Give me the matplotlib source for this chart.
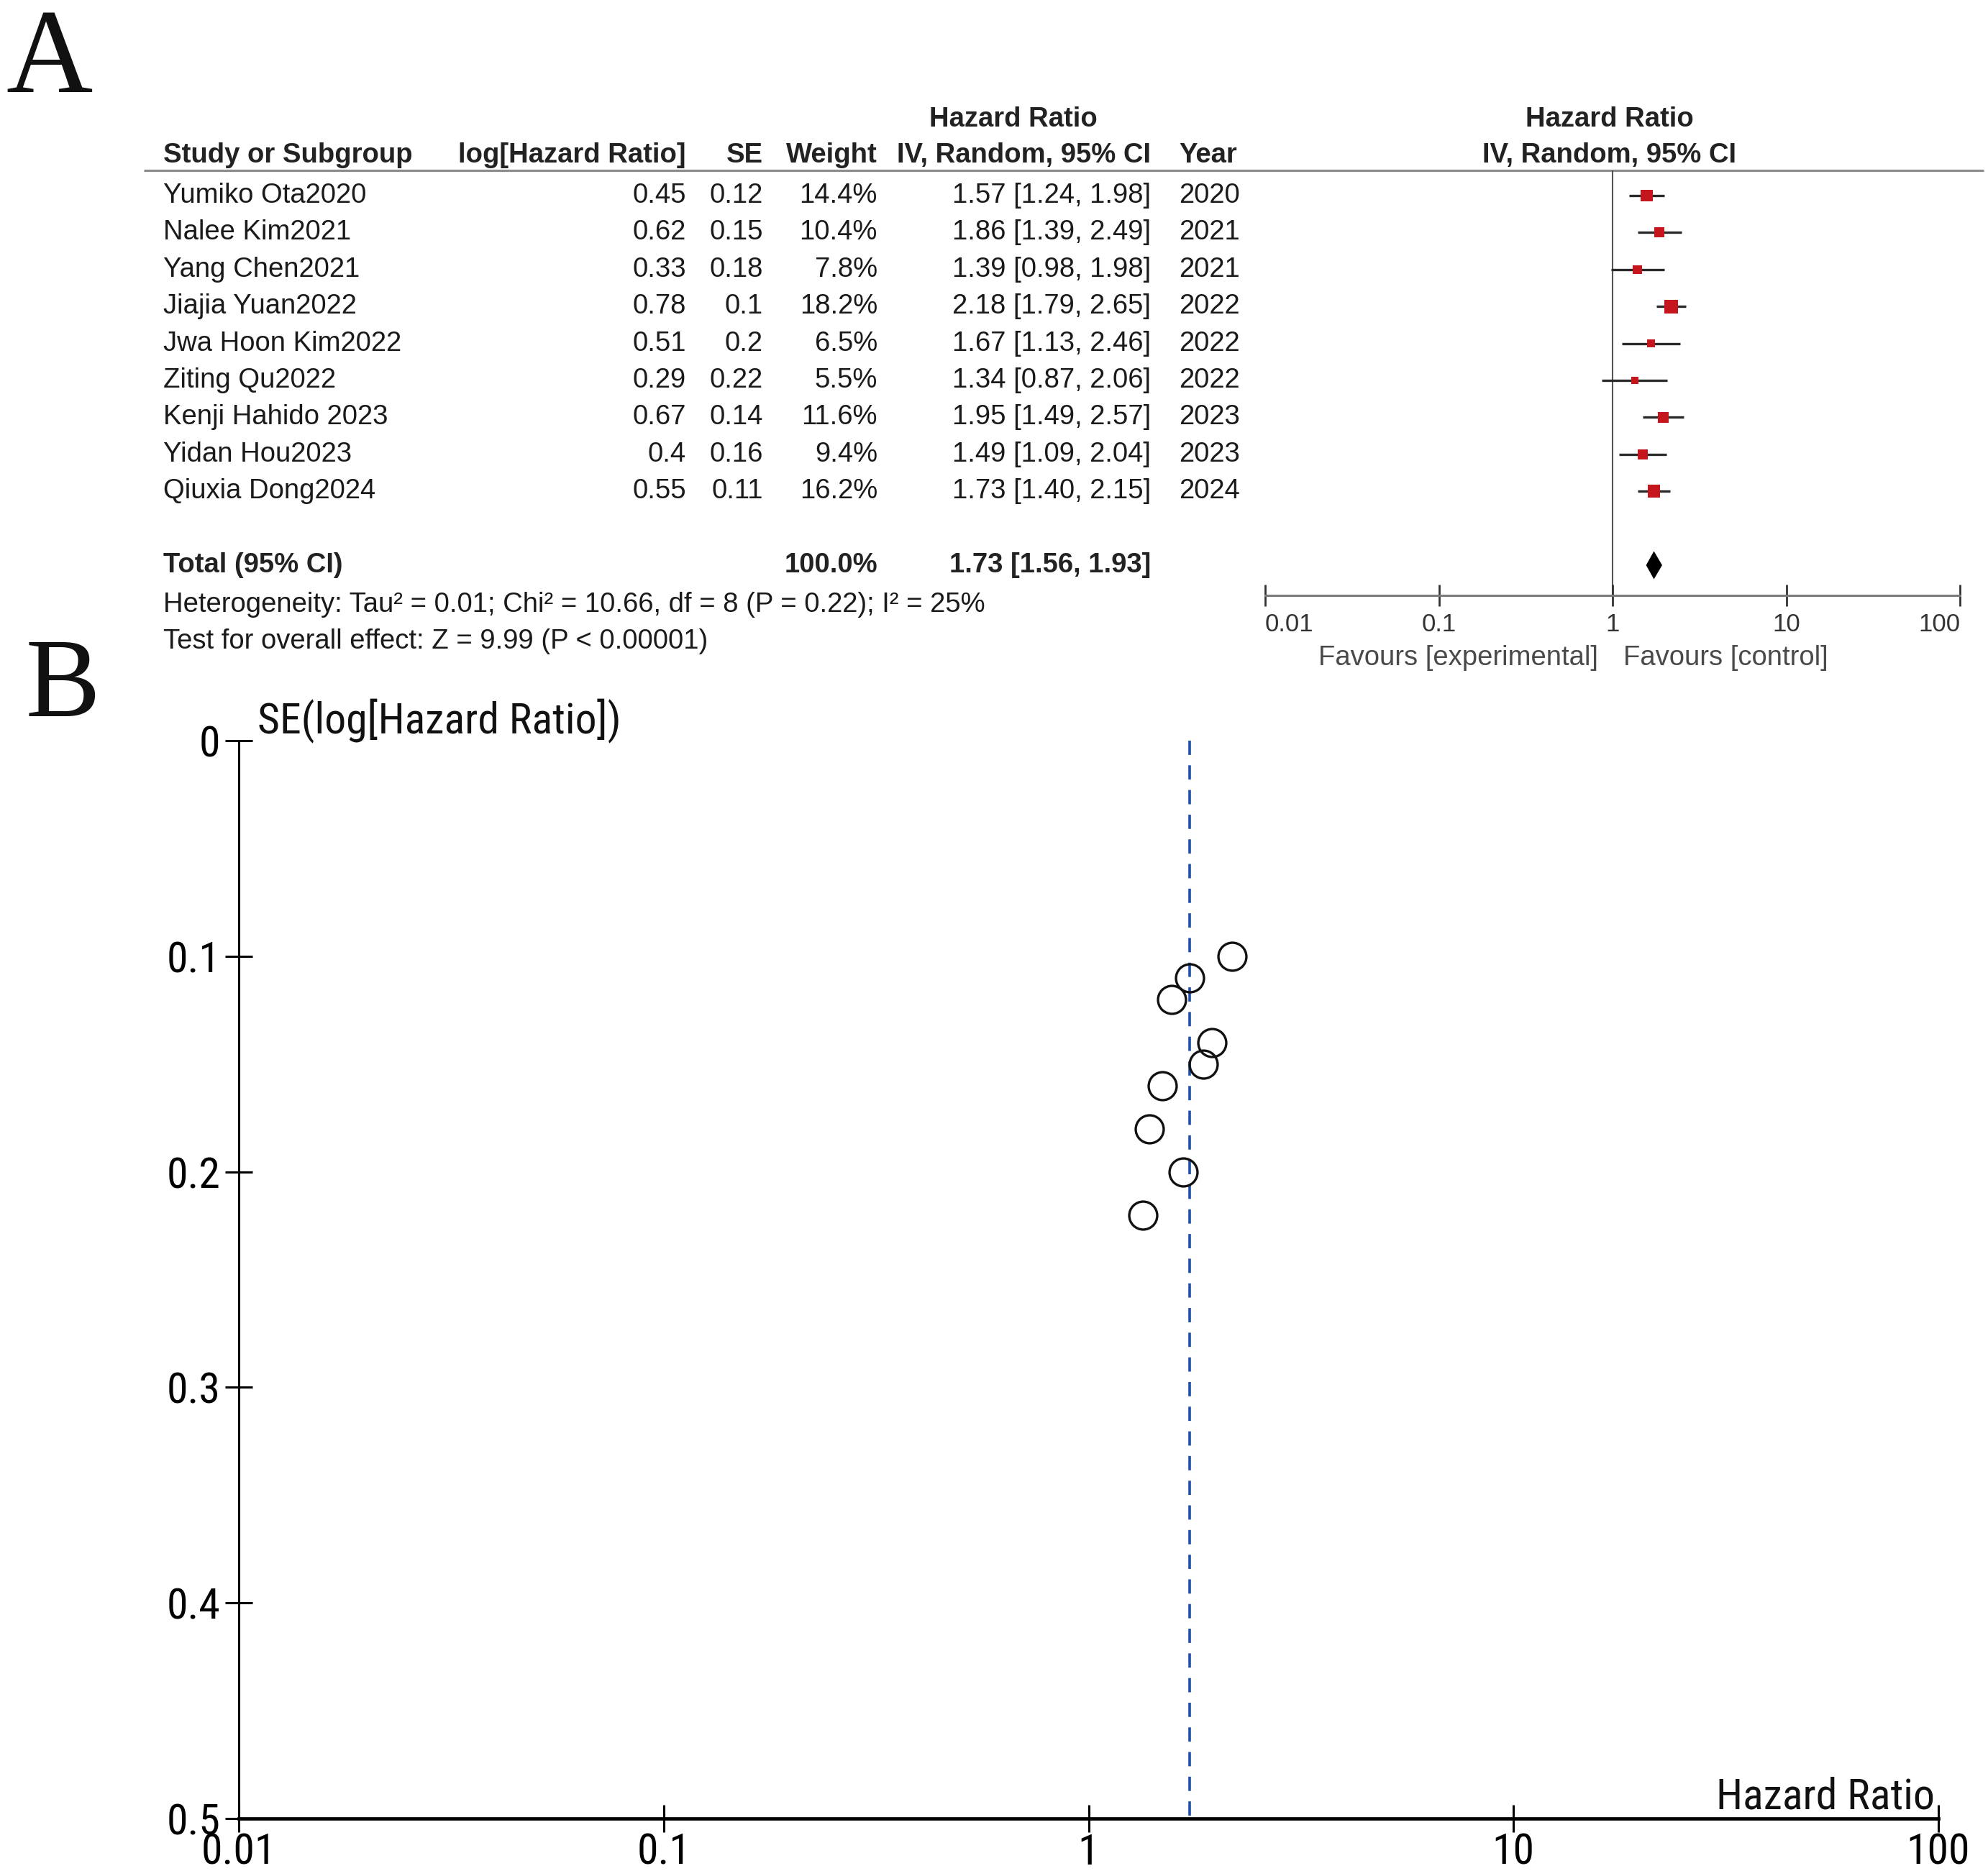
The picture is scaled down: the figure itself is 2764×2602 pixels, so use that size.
import numpy as np
import matplotlib
matplotlib.use("Agg")
import matplotlib.pyplot as plt
from matplotlib.ticker import NullLocator
from matplotlib import font_manager

# ---------------- data ----------------
studies = ["Yumiko Ota2020", "Nalee Kim2021", "Yang Chen2021", "Jiajia Yuan2022",
           "Jwa Hoon Kim2022", "Ziting Qu2022", "Kenji Hahido 2023", "Yidan Hou2023",
           "Qiuxia Dong2024"]
log_hr = [0.45, 0.62, 0.33, 0.78, 0.51, 0.29, 0.67, 0.4, 0.55]
se = [0.12, 0.15, 0.18, 0.1, 0.2, 0.22, 0.14, 0.16, 0.11]
weight = [14.4, 10.4, 7.8, 18.2, 6.5, 5.5, 11.6, 9.4, 16.2]
hr = [1.57, 1.86, 1.39, 2.18, 1.67, 1.34, 1.95, 1.49, 1.73]
ci_lo = [1.24, 1.39, 0.98, 1.79, 1.13, 0.87, 1.49, 1.09, 1.40]
ci_hi = [1.98, 2.49, 1.98, 2.65, 2.46, 2.06, 2.57, 2.04, 2.15]
years = [2020, 2021, 2021, 2022, 2022, 2022, 2023, 2023, 2024]

total_weight = 100.0
total_hr = 1.73
total_lo = 1.56
total_hi = 1.93
heterogeneity = "Heterogeneity: Tau\u00b2 = 0.01; Chi\u00b2 = 10.66, df = 8 (P = 0.22); I\u00b2 = 25%"
overall_test = "Test for overall effect: Z = 9.99 (P < 0.00001)"

forest_ticks = [0.01, 0.1, 1, 10, 100]
forest_ticklabels = ["0.01", "0.1", "1", "10", "100"]
funnel_yticks = [0, 0.1, 0.2, 0.3, 0.4, 0.5]
funnel_yticklabels = ["0", "0.1", "0.2", "0.3", "0.4", "0.5"]

# ---------------- layout ----------------
W, H = 2764, 2602
DPI = 100
fig = plt.figure(figsize=(W / DPI, H / DPI), dpi=DPI)
fig.patch.set_facecolor("white")

installed = {f.name for f in font_manager.fontManager.ttflist}
TF = ["Liberation Sans", "DejaVu Sans"]
narrow_candidates = ["Liberation Sans Narrow", "Roboto Condensed", "Open Sans Condensed"]
narrow = [n for n in narrow_candidates if n in installed]
if narrow:
    NF = [narrow[0], "Liberation Sans", "DejaVu Sans"]
    NFS = 43
else:
    NF = ["Liberation Sans", "DejaVu Sans"]
    NFS = 37
SF = ["Liberation Serif", "DejaVu Serif"]

def fx(x):
    return x / W

def fy(y):
    return 1 - y / H

# forest section rows
ROW0 = 272.0
ROWH = 51.4
top_px, bot_px = 237.0, 828.0
row_top = (top_px - ROW0) / ROWH
row_bot = (bot_px - ROW0) / ROWH

def row_of(ypx):
    return (ypx - ROW0) / ROWH

# table axes (pixel x, row y)
ax_t = fig.add_axes([0, fy(bot_px), 1, (bot_px - top_px) / H])
ax_t.set_xlim(0, W)
ax_t.set_ylim(row_bot, row_top)
ax_t.axis("off")

# forest axes
fl, fr = 1759.0, 2725.0
ax_f = fig.add_axes([fx(fl), fy(bot_px), (fr - fl) / W, (bot_px - top_px) / H])
ax_f.set_xscale("log")
ax_f.set_xlim(0.01, 100)
ax_f.set_ylim(row_bot, row_top)
ax_f.patch.set_alpha(0)

FS = 27.5
TXT = "#1a1a1a"

# panel labels
fig.text(fx(8), fy(128), "A", fontsize=120, family=SF, color="#111", va="baseline", ha="left")
fig.text(fx(36), fy(996), "B", fontsize=112, family=SF, color="#111", va="baseline", ha="left")

# headers
x_name, x_log, x_se, x_w, x_ci, x_year = 227, 954, 1061, 1220, 1600, 1639
hdr1 = row_of(166)
hdr2 = row_of(216)
bold = dict(fontsize=FS, family=TF, fontweight="bold", color="#222", va="center", clip_on=False)
ax_t.text(1409, hdr1, "Hazard Ratio", ha="center", **bold)
ax_t.text(2238, hdr1, "Hazard Ratio", ha="center", **bold)
ax_t.text(x_name, hdr2, "Study or Subgroup", ha="left", **bold)
ax_t.text(x_log, hdr2, "log[Hazard Ratio]", ha="right", **bold)
ax_t.text(x_se, hdr2, "SE", ha="right", **bold)
ax_t.text(x_w, hdr2, "Weight", ha="right", **bold)
ax_t.text(x_ci, hdr2, "IV, Random, 95% CI", ha="right", **bold)
ax_t.text(x_year, hdr2, "Year", ha="left", **bold)
ax_t.text(2238, hdr2, "IV, Random, 95% CI", ha="center", **bold)
ax_t.plot([200, 2758], [row_top, row_top], color="#8c8c8c", lw=2.3, clip_on=False,
          solid_capstyle="butt")

# study rows
reg = dict(fontsize=FS, family=TF, color=TXT, va="center", clip_on=False)
rows = np.arange(len(studies))
for i, name in enumerate(studies):
    ax_t.text(x_name, rows[i], name, ha="left", **reg)
    ax_t.text(x_log, rows[i], str(log_hr[i]), ha="right", **reg)
    ax_t.text(x_se, rows[i], str(se[i]), ha="right", **reg)
    ax_t.text(x_w, rows[i], f"{weight[i]:.1f}%", ha="right", **reg)
    ax_t.text(x_ci, rows[i], f"{hr[i]:.2f} [{ci_lo[i]:.2f}, {ci_hi[i]:.2f}]", ha="right", **reg)
    ax_t.text(x_year, rows[i], str(years[i]), ha="left", **reg)

total_row = len(studies) + 1
ax_t.text(x_name, total_row, "Total (95% CI)", ha="left", **bold)
ax_t.text(x_w, total_row, f"{total_weight:.1f}%", ha="right", **bold)
ax_t.text(x_ci, total_row, f"{total_hr:.2f} [{total_lo:.2f}, {total_hi:.2f}]", ha="right", **bold)
ax_t.text(x_name, row_of(841), heterogeneity, ha="left", **reg)
ax_t.text(x_name, row_of(892), overall_test, ha="left", **reg)

# forest plot marks
ax_f.axvline(1, color="#555555", lw=1.5, zorder=1)
ax_f.hlines(rows, ci_lo, ci_hi, color="#2a2a2a", lw=2.4, zorder=2)
ax_f.scatter(hr, rows, marker="s", s=np.array(weight) * 10.0, color="#c4161c",
             edgecolors="none", zorder=3)
h = 0.38
ax_f.fill([total_lo, total_hr, total_hi, total_hr],
          [total_row, total_row - h, total_row, total_row + h],
          color="black", zorder=3, lw=0)

for s in ["top", "right", "left"]:
    ax_f.spines[s].set_visible(False)
ax_f.spines["bottom"].set_color("#7a7a7a")
ax_f.spines["bottom"].set_linewidth(2.2)
ax_f.set_yticks([])
ax_f.set_xticks(forest_ticks)
ax_f.set_xticklabels(forest_ticklabels)
ax_f.xaxis.set_minor_locator(NullLocator())
ax_f.tick_params(axis="x", direction="inout", length=22, width=2.0, color="#333333",
                 labelsize=25, pad=6, labelcolor="#333333")
for lab in ax_f.get_xticklabels():
    lab.set_family(TF)
labs = ax_f.get_xticklabels()
labs[0].set_horizontalalignment("left")
labs[-1].set_horizontalalignment("right")

fav = dict(fontsize=FS, family=TF, color="#4a4a4a", va="center", clip_on=False)
ax_t.text(2222, row_of(915), "Favours [experimental]", ha="right", **fav)
ax_t.text(2257, row_of(915), "Favours [control]", ha="left", **fav)

# ---------------- funnel plot ----------------
bl, br, bt, bb = 332.0, 2695.0, 1030.0, 2529.0
ax_b = fig.add_axes([fx(bl), fy(bb), (br - bl) / W, (bb - bt) / H])
ax_b.set_xscale("log")
ax_b.set_xlim(0.01, 100)
ax_b.set_ylim(0.5, 0)
for s in ["top", "right"]:
    ax_b.spines[s].set_visible(False)
ax_b.spines["left"].set_linewidth(2.2)
ax_b.spines["bottom"].set_linewidth(3.4)
ax_b.set_xticks(forest_ticks)
ax_b.set_xticklabels(forest_ticklabels)
ax_b.xaxis.set_minor_locator(NullLocator())
ax_b.set_yticks(funnel_yticks)
ax_b.set_yticklabels(funnel_yticklabels)
ax_b.tick_params(axis="both", direction="inout", length=27, width=2.2, color="black",
                 labelsize=NFS)
ax_b.tick_params(axis="x", pad=0)
ax_b.tick_params(axis="y", pad=5)
for lab in ax_b.get_xticklabels() + ax_b.get_yticklabels():
    lab.set_family(NF)

ax_b.plot([total_hr, total_hr], [0, 0.5], color="#1f4fa8", lw=2.6,
          dashes=(5.5, 4.0), zorder=1, clip_on=False)
ax_b.plot(hr, se, linestyle="none", marker="o", markersize=28, markerfacecolor="none",
          markeredgecolor="#111111", markeredgewidth=2.4, zorder=3)

fig.text(fx(358), fy(1020), "SE(log[Hazard Ratio])", fontsize=NFS, family=NF,
         color="#111", ha="left", va="baseline")
fig.text(fx(2690), fy(2515), "Hazard Ratio", fontsize=NFS, family=NF,
         color="#111", ha="right", va="baseline")

fig.savefig("out.png", dpi=DPI, facecolor="white")
